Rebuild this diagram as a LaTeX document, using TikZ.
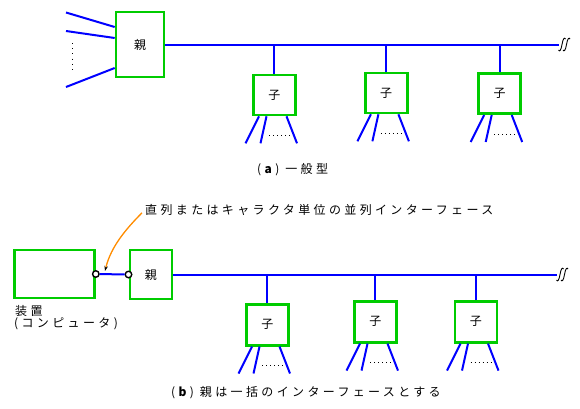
\documentclass[tikz,border=0pt]{standalone}
\usepackage{fontspec}
\setmainfont{Noto Sans CJK JP}[LetterSpace=28]
\usetikzlibrary{arrows.meta}
\definecolor{boxgreen}{RGB}{0,204,0}
\definecolor{busblue}{RGB}{0,0,255}
\definecolor{arrorange}{RGB}{255,140,0}
\tikzset{
  gbox/.style={draw=boxgreen, line width=2.6pt, inner sep=0pt, fill=white},
  bus/.style={draw=busblue, line width=2pt},
  dotline/.style={draw=black, line width=1pt, dash pattern=on 1pt off 3pt},
  port/.style={circle, draw=black, fill=white, line width=1.4pt, inner sep=0pt, minimum size=6.5pt},
  txt/.style={inner sep=0pt, font=\fontsize{12pt}{14pt}\selectfont, text=black},
  brk/.pic={
    \draw[black, line width=0.9pt] (-3.5,5.5) .. controls (-2.5,7.5) and (-1,6) .. (0,0) .. controls (1,-6) and (2.5,-7.5) .. (3.5,-5.5);
    \draw[black, line width=0.9pt] (1,5.5) .. controls (2,7.5) and (3.5,6) .. (4.5,0) .. controls (5.5,-6) and (7,-7.5) .. (8,-5.5);
  }
}
\begin{document}
\begin{tikzpicture}[x=1pt, y=-1pt]
\useasboundingbox (0,0) rectangle (580,408);

% ---------------- (a) ----------------
\node[gbox, minimum width=48pt, minimum height=65pt] (pa) at (140,44.5) {};
\node[txt] (pat) at (pa.center) {親};
\coordinate (ea) at (559,44.5);
\draw[bus] (pa.east) -- (ea);
\pic at (562,44.5) {brk};

% inputs
\coordinate (i1) at (66,12.5);
\coordinate (i2) at (66,31);
\coordinate (i3) at (66,87);
\draw[bus] (i1) -- ([yshift=17.5pt]pa.west);
\draw[bus] (i2) -- ([yshift=6.5pt]pa.west);
\draw[bus] (i3) -- ([yshift=-23.5pt]pa.west);
\coordinate (v1) at (72,43);
\coordinate (v2) at (72,71);
\draw[black, line width=1pt, dash pattern=on 1pt off 4.2pt] (v1) -- (v2);

\node[gbox, minimum width=42pt, minimum height=40pt] (c1) at (274.3,95) {};
\node[gbox, minimum width=42pt, minimum height=40pt] (c2) at (386.2,93) {};
\node[gbox, minimum width=42pt, minimum height=40pt] (c3) at (499.5,93.7) {};
\foreach \c in {c1,c2,c3}{
  \node[txt] at (\c.center) {子};
  \draw[bus] (\c.north) -- (\c.north |- pa.east);
}

% ---------------- (b) ----------------
\node[gbox, minimum width=80pt, minimum height=48pt] (dev) at (54.5,274) {};
\node[gbox, minimum width=42pt, minimum height=49pt] (pb) at (150.8,274.5) {};
\node[txt] at (pb.center) {親};
\node[port] (p1) at (dev.east) {};
\node[port] (p2) at (pb.west) {};
\draw[bus] (p1) -- (p2);
\coordinate (eb) at (557,274.5);
\draw[bus] (pb.east) -- (eb);
\pic at (560,274.5) {brk};

\node[gbox, minimum width=42pt, minimum height=41pt] (d1) at (267.3,324.7) {};
\node[gbox, minimum width=42pt, minimum height=41pt] (d2) at (375.3,321.8) {};
\node[gbox, minimum width=42pt, minimum height=41pt] (d3) at (475.8,321.8) {};
\foreach \c in {d1,d2,d3}{
  \node[txt] at (\c.center) {子};
  \draw[bus] (\c.north) -- (\c.north |- pb.east);
}

% child outputs
\foreach \c in {c1,c2,c3,d1,d2,d3}{
  \draw[bus] ([xshift=7pt]\c.south west) -- ++(-13.5,27);
  \draw[bus] ([xshift=14.5pt]\c.south west) -- ++(-6,27);
  \draw[bus] ([xshift=34.5pt]\c.south west) -- ++(10.5,27);
  \draw[dotline] ([xshift=17pt,yshift=-19pt]\c.south west) -- ++(23,0);
}

% labels
\node[txt, anchor=west] (dl1) at (15,311) {装置};
\node[txt, anchor=west] (dl2) at (14,323.5) {(コンピュータ)};
\node[txt, anchor=west] (lbl) at (145,210) {直列またはキャラクタ単位の並列インターフェース};
\coordinate (ae) at (105,271);
\draw[arrorange, line width=1.3pt, -{Stealth[color=black, length=5pt, width=3.5pt]}]
  ([xshift=-3pt,yshift=3pt]lbl.south west) .. controls (127,228) and (111,246) .. (ae);

\node[txt, anchor=west] (capa) at (257,170) {(\textbf{a}) 一般型};
\node[txt, anchor=west] (capb) at (171,393) {(\textbf{b}) 親は一括のインターフェースとする};
\end{tikzpicture}
\end{document}
